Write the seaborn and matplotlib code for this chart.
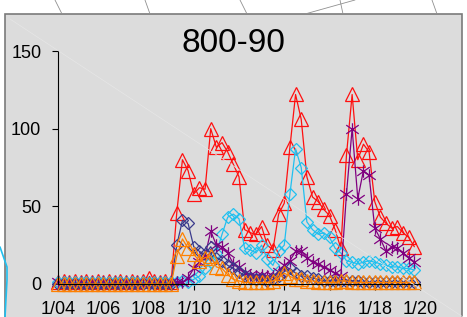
import numpy as np
import pandas as pd
import seaborn as sns
import matplotlib.pyplot as plt
from matplotlib.patches import Rectangle
from matplotlib.lines import Line2D
from matplotlib.path import Path
from matplotlib.ticker import FuncFormatter
import matplotlib.dates as mdates

# 6-hourly readings, 1/04 .. 1/19 18:00
times = pd.date_range('2011-01-04', periods=64, freq='6h')

red = [1, 2, 1, 2, 1, 2, 1, 2, 1, 2, 1, 2, 1, 2, 1, 2, 4, 2, 1, 2, 1,
       46, 80, 73, 58, 62, 61, 100, 88, 91, 85, 77, 69,
       35, 33, 32, 37, 25, 22, 45, 52, 88, 122, 106, 69, 56, 53, 48, 44, 35, 23,
       83, 122, 80, 90, 85, 53, 43, 39, 36, 37, 33, 30, 24]
cyan = [1, 1, 1, 1, 1, 1, 1, 1, 1, 1, 1, 1, 1, 1, 1, 1, 1, 1, 1, 1, 1,
        1, 2, 1, 3, 5, 10, 14, 20, 32, 43, 45, 42,
        23, 22, 20, 25, 16, 12, 21, 25, 58, 87, 75, 40, 35, 32, 33, 30, 23, 20,
        15, 14, 13, 14, 15, 14, 13, 12, 11, 11, 10, 10, 9]
purple = [1, 0, 1, 0, 1, 0, 1, 0, 1, 0, 1, 0, 1, 0, 1, 0, 1, 0, 1, 0, 1,
          1, 1, 4, 10, 14, 18, 34, 25, 24, 20, 13, 11,
          7, 6, 5, 6, 5, 5, 8, 12, 15, 21, 21, 17, 14, 13, 11, 9, 7, 5,
          58, 100, 55, 73, 70, 36, 29, 21, 24, 23, 20, 17, 14]
navy = [0, 0, 0, 0, 0, 0, 0, 0, 0, 0, 0, 0, 0, 0, 0, 0, 0, 0, 0, 0, 0,
        25, 41, 39, 24, 21, 19, 24, 17, 15, 12, 10, 8,
        5, 4, 3, 3, 2, 3, 5, 8, 10, 7, 5, 5, 4, 3, 2, 2, 2, 2,
        2, 2, 2, 1, 1, 1, 1, 1, 1, 1, 1, 1, 1]
orange = [0, 0, 0, 0, 0, 0, 0, 0, 0, 0, 0, 0, 0, 0, 0, 0, 0, 0, 0, 0, 0,
          18, 29, 23, 19, 15, 17, 18, 11, 10, 6, 3, 2,
          1, 1, 1, 1, 1, 2, 4, 7, 5, 3, 3, 2, 2, 1, 1, 1, 1, 2,
          2, 1, 1, 1, 1, 1, 1, 1, 1, 1, 1, 1, 1]

# excel-style asterisk: wide X plus a vertical bar
star = Path([(-1, -0.7), (1, 0.7), (-1, 0.7), (1, -0.7), (0, -1), (0, 1)],
            [Path.MOVETO, Path.LINETO, Path.MOVETO, Path.LINETO, Path.MOVETO, Path.LINETO])

series = [
    (red, '#ff1010', '^', 10),
    (cyan, '#20c0f0', 'D', 6),
    (purple, '#800080', star, 9),
    (navy, '#3a3a8c', 'D', 6),
    (orange, '#ff8000', '^', 9.5),
]

sns.set_style('white')
plt.rcParams['font.family'] = ['Liberation Sans', 'DejaVu Sans']

fig = plt.figure(figsize=(4.67, 3.17), dpi=100)
fig.patch.set_facecolor('white')

# grey chart panel
fig.add_artist(Rectangle((5 / 467, -0.01), 457 / 467, 303 / 317 + 0.01, transform=fig.transFigure,
                         facecolor='#dcdcdc', edgecolor='#7a7a7a', lw=1.2, zorder=0))
# faint background artefacts
for (x0, y0, x1, y1) in [(55, 317, 62, 303), (145, 317, 150, 303), (240, 317, 247, 303),
                         (340, 317, 343, 303), (305, 303, 355, 317), (432, 317, 437, 303)]:
    fig.add_artist(Line2D([x0 / 467, x1 / 467], [y0 / 317, y1 / 317], color='#909090', lw=0.6))
fig.add_artist(Line2D([10 / 467, 463 / 467], [298 / 317, 0], color='#e6e6e6', lw=0.5, zorder=1))
fig.add_artist(Line2D([0, 7 / 467, 7 / 467, 5 / 467], [70 / 317, 50 / 317, 37 / 317, 0],
                      color='#20c0f0', lw=1.2, zorder=1))

ax = fig.add_axes([58 / 467, 33 / 317, 362 / 467, 233 / 317])
ax.set_facecolor('none')

for vals, col, mk, ms in series:
    sns.lineplot(x=times, y=vals, ax=ax, color=col, lw=0.9, marker=mk, ms=ms,
                 mfc='none', mec=col, mew=0.9, clip_on=False)

ax.set_ylim(0, 150)
ax.set_yticks([0, 50, 100, 150])
ax.set_xlim(pd.Timestamp('2011-01-04'), pd.Timestamp('2011-01-20'))
ax.set_xticks(pd.date_range('2011-01-04', '2011-01-20', freq='2D'))
ax.xaxis.set_major_formatter(FuncFormatter(
    lambda v, p: '{}/{:02d}'.format(mdates.num2date(v).month, mdates.num2date(v).day)))
for s in ['top', 'right']:
    ax.spines[s].set_visible(False)
for s in ['left', 'bottom']:
    ax.spines[s].set_color('black')
    ax.spines[s].set_linewidth(0.8)
ax.tick_params(axis='both', direction='out', length=4, width=0.8, color='black',
               labelsize=13, labelcolor='black', left=True, bottom=True)
ax.tick_params(axis='y', pad=8)
ax.tick_params(axis='x', pad=8)
ax.set_xlabel('')
ax.set_ylabel('')

fig.text(233 / 467, 274 / 317, '800-90', fontsize=24, color='black', ha='center', va='center')

fig.savefig('out.png', dpi=100)
